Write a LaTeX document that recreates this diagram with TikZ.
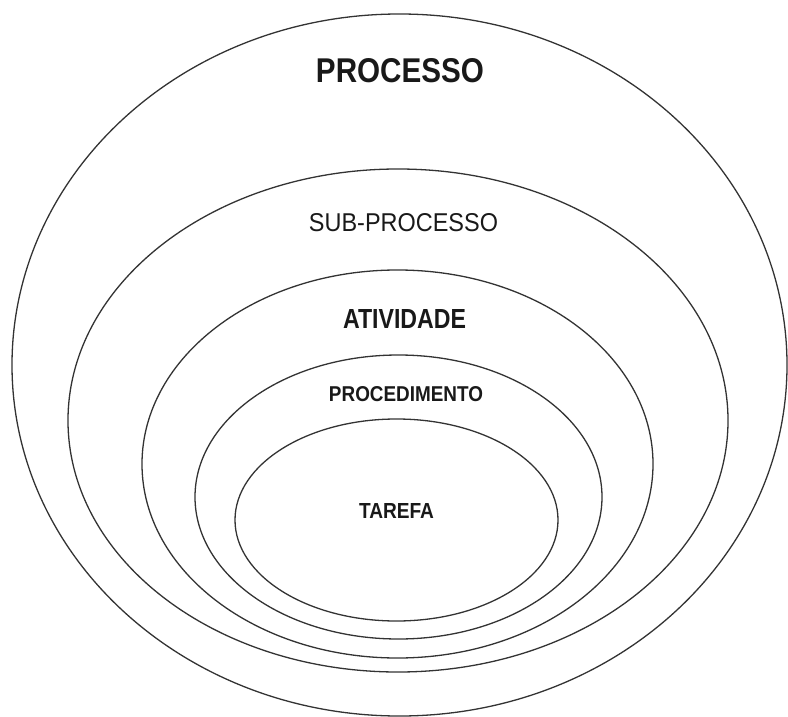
\documentclass[tikz,border=0pt]{standalone}
\usepackage{fontspec}
\setmainfont{Liberation Sans}
\usetikzlibrary{shapes.geometric}
\begin{document}
\begin{tikzpicture}[x=1bp,y=-1bp,
  ring/.style={ellipse,draw=black!80,line width=1.3bp,inner sep=0pt},
  lbl/.style={inner sep=0pt,text=black!90}]
\useasboundingbox (0,0) rectangle (788,717);
\node[ring,minimum width=775bp,minimum height=702bp] (processo) at (399.5,365) {};
\node[ring,minimum width=660bp,minimum height=503bp] (subprocesso) at (398,420.5) {};
\node[ring,minimum width=511bp,minimum height=388bp] (atividade) at (397.5,464) {};
\node[ring,minimum width=407bp,minimum height=284bp] (procedimento) at (398.5,497) {};
\node[ring,minimum width=323bp,minimum height=202bp] (tarefa) at (396.5,520) {};
\node[lbl] (tprocesso) at (400,70.5) {\resizebox{168bp}{24bp}{\bfseries PROCESSO}};
\node[lbl] (tsub) at (403.5,223) {\resizebox{189bp}{18bp}{SUB-PROCESSO}};
\node[lbl] (tativ) at (404.5,319) {\resizebox{123bp}{19bp}{\bfseries ATIVIDADE}};
\node[lbl] (tproc) at (406,394.5) {\resizebox{154bp}{15bp}{\bfseries PROCEDIMENTO}};
\node[lbl] (ttar) at (396.5,510.5) {\resizebox{75bp}{15bp}{\bfseries TAREFA}};
\end{tikzpicture}
\end{document}
